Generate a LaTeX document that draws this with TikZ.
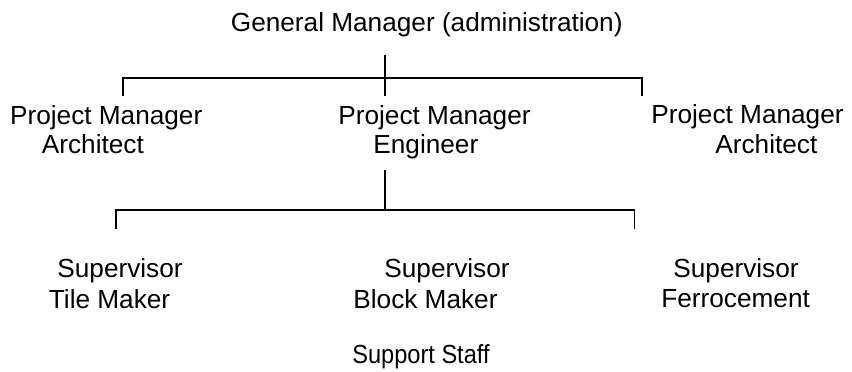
\documentclass[tikz,border=0pt]{standalone}
\usepackage{fontspec}
\setmainfont{Liberation Sans}
\begin{document}
\begin{tikzpicture}[x=0.5pt,y=-0.5pt,
  lbl/.style={anchor=base west, inner sep=0pt, font=\fontsize{13.1}{15}\selectfont},
  link/.style={line width=0.9pt, black}]
\useasboundingbox (0,0) rectangle (852,371);

% top level
\node[lbl] (gm) at (230.5,31.7) {General Manager (administration)};

% project managers
\node[lbl] (pmA1) at (9.7,124.3) {Project Manager};
\node[lbl] (pmA2) at (41.5,153.3) {Architect};
\node[lbl] (pmE1) at (338,124.3) {Project Manager};
\node[lbl] (pmE2) at (373,153.3) {Engineer};
\node[lbl] (pmR1) at (651,123.8) {Project Manager};
\node[lbl] (pmR2) at (715,153.8) {Architect};

% supervisors
\node[lbl] (svT1) at (57,277.5) {Supervisor};
\node[lbl] (svT2) at (48.5,308) {Tile Maker};
\node[lbl] (svB1) at (384,277) {Supervisor};
\node[lbl] (svB2) at (353,308) {Block Maker};
\node[lbl] (svF1) at (673,277) {Supervisor};
\node[lbl] (svF2) at (661,307) {Ferrocement};

% staff
\node[lbl] (staff) at (352,363) {\scalebox{0.9}[1]{Support Staff}};

% connector end points
\coordinate (gmStem) at (385,55);
\coordinate (gmFoot) at (385,96);
\coordinate (pmAtop) at (123,96);
\coordinate (pmRtop) at (642,96);
\coordinate (engStem) at (385,170);
\coordinate (engFoot) at (385,210);
\coordinate (svTtop) at (116,229);
\coordinate (svFtop) at (634.5,229);

% connectors
\draw[link] (gmStem) -- (gmFoot);
\draw[link] (pmAtop) -- ++(0,-18) -| (pmRtop);
\draw[link] (engStem) -- (engFoot);
\draw[link] (svTtop) -- ++(0,-19) -| (svFtop);
\end{tikzpicture}
\end{document}
